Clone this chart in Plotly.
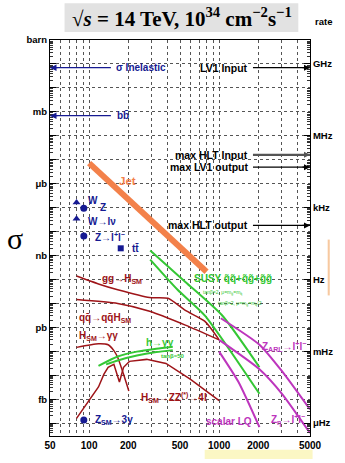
import numpy as np
import plotly.graph_objects as go

# ---------------- data: mass (GeV), cross-section (pb), rate (Hz) ----------------
jet_m = [100, 800]
jet_sigma = [7.2e6, 2.1e2]

w_m = [80, 80]
w_sigma = [1.65e5, 3.4e4]          # W (total), W->lv
z_m = [91]
z_sigma = [9.4e4]
zll_m = [91]
zll_sigma = [6.5e3]
tt_m = [175]
tt_sigma = [2.0e3]
z3g_m = [91]
z3g_sigma = [1.35e-4]

ggh_m = [80, 118, 166, 292, 404, 550, 774, 1000]
ggh_sigma = [139, 65, 37, 17.5, 16.3, 5.1, 1.81, 0.30]

qqh_m = [80, 166, 292, 550, 1000]
qqh_sigma = [14.5, 9.9, 4.7, 1.24, 0.30]

hgg_m = [80, 118, 140, 155, 166, 184, 202]
hgg_sigma = [0.146, 0.207, 0.188, 0.107, 0.055, 0.011, 0.0022]

h4l_m = [80, 99, 118, 130, 140, 155, 171, 184, 204, 277, 390, 599, 1000]
h4l_sigma = [1.59e-4, 7.9e-4, 3.25e-3, 0.0111, 0.0215, 0.0285, 0.0052, 0.0215,
             0.038, 0.046, 0.031, 0.0069, 8.7e-4]

susy1_m = [295, 550, 1053, 2042]
susy1_sigma = [1618, 79, 3.19, 0.0215]
susy2_m = [295, 479, 774, 2042]
susy2_sigma = [673, 37.1, 3.19, 1.68e-3]

mssm_hgg1_m = [118, 166, 233, 329, 440]
mssm_hgg1_sigma = [0.0247, 0.0607, 0.097, 0.129, 0.156]
mssm_hgg2_m = [135, 166, 233, 329, 440]
mssm_hgg2_sigma = [0.0285, 0.0416, 0.0667, 0.0927, 0.112]

zarl_m = [1030, 2042, 3044, 5000]
zarl_sigma = [2.40, 0.188, 0.0147, 3.7e-4]
zeta_m = [1000, 2042, 3044, 5000]
zeta_sigma = [0.30, 0.0178, 1.68e-3, 3.86e-5]
lq_m = [1000, 1409, 2042]
lq_sigma = [0.097, 5.2e-3, 6.8e-5]

# reference levels
inel_sigma = 7.0e10      # pb  (sigma inelastic)
bb_sigma = 6.9e8         # pb  (b bbar)
left_arrow_m = [147, 50]
rate_names = ["LV1 Input", "max HLT Input", "max LV1 output", "max HLT output"]
rate_values = [7.0e8, 1.6e5, 4.9e4, 1.8e2]   # Hz
right_arrow_m = [1821, 5000]

x_major = [50, 100, 200, 500, 1000, 2000, 5000]
x_major_labels = ["50", "100", "200", "500", "1000", "2000", "5000"]
x_minor = [60, 70, 80, 90, 300, 400, 600, 700, 800, 900, 3000, 4000]
sigma_unit_vals = [1e12, 1e9, 1e6, 1e3, 1, 1e-3]            # pb
sigma_unit_labels = ["barn", "mb", "\u03bcb", "nb", "pb", "fb"]
rate_unit_vals = [1e9, 1e6, 1e3, 1, 1e-3, 1e-6]             # Hz
rate_unit_labels = ["GHz", "MHz", "kHz", "Hz", "mHz", "\u03bcHz"]

# ---------------- styles ----------------
NAVY = "#161a92"
RED = "#9e1418"
GREEN = "#34c734"
MAG = "#bd35bd"
ORANGE = "#f3814a"
FONT = "Liberation Sans, Arial, sans-serif"
GRID = "#555555"

fig = go.Figure()

def line(x, y, color, width, shape="spline", yaxis="y"):
    fig.add_trace(go.Scatter(x=x, y=y, mode="lines", yaxis=yaxis,
                             line=dict(color=color, width=width, shape=shape,
                                       smoothing=0.6),
                             hoverinfo="skip", showlegend=False))

# helper trace so that the decade-grid axis is drawn
fig.add_trace(go.Scatter(x=[50], y=[1], yaxis="y3", mode="markers",
                         marker=dict(opacity=0), hoverinfo="skip", showlegend=False))

# Jet
line(jet_m, jet_sigma, ORANGE, 6, "linear")
# Higgs
line(ggh_m, ggh_sigma, RED, 1.5)
line(qqh_m, qqh_sigma, RED, 1.5)
line(hgg_m, hgg_sigma, RED, 1.5)
line(h4l_m, h4l_sigma, RED, 1.5, "linear")
# SUSY / MSSM
line(susy1_m, susy1_sigma, GREEN, 2)
line(susy2_m, susy2_sigma, GREEN, 2)
line(mssm_hgg1_m, mssm_hgg1_sigma, GREEN, 2)
line(mssm_hgg2_m, mssm_hgg2_sigma, GREEN, 2)
# exotics
line(zarl_m, zarl_sigma, MAG, 2)
line(zeta_m, zeta_sigma, MAG, 2)
line(lq_m, lq_sigma, MAG, 2)

# left reference arrows (shafts)
line(left_arrow_m, [inel_sigma, inel_sigma], NAVY, 1.3, "linear")
line(left_arrow_m, [bb_sigma, bb_sigma], NAVY, 1.3, "linear")
# rate arrows (shafts) on the rate axis
for name, r in zip(rate_names, rate_values):
    w = 2.2 if name == "max HLT Input" else 1.2
    c = "#555555" if name == "max HLT Input" else "black"
    line(right_arrow_m, [r, r], c, w, "linear", yaxis="y2")

# markers
def mk(x, y, symbol, size):
    fig.add_trace(go.Scatter(x=x, y=y, mode="markers", hoverinfo="skip",
                             marker=dict(symbol=symbol, size=size, color=NAVY),
                             showlegend=False))
mk(w_m, w_sigma, "triangle-up", 7)
mk(z_m, z_sigma, "circle", 7)
mk(zll_m, zll_sigma, "circle", 7)
mk(tt_m, tt_sigma, "square", 6)
mk(z3g_m, z3g_sigma, "circle", 7)

ann = []
L = np.log10

# arrow heads
for s in [inel_sigma, bb_sigma]:
    ann.append(dict(x=L(50), y=L(s), xref="x", yref="y", ax=9, ay=0,
                    showarrow=True, arrowhead=2, arrowsize=1, arrowwidth=1.3,
                    arrowcolor=NAVY, text=""))
for name, r in zip(rate_names, rate_values):
    c = "#555555" if name == "max HLT Input" else "black"
    ann.append(dict(x=L(5000), y=L(r), xref="x", yref="y2", ax=-9, ay=0,
                    showarrow=True, arrowhead=2, arrowsize=1, arrowwidth=1.2,
                    arrowcolor=c, text=""))

def txt(text, m, s, color, size=10, anchor="left", yref="y", bold=True):
    ann.append(dict(x=L(m), y=L(s), xref="x", yref=yref, text=text,
                    showarrow=False, xanchor=anchor, yanchor="middle",
                    font=dict(family=FONT, size=size, color=color,
                              weight="bold" if bold else "normal")))

# labels (positions in mass / sigma units)
txt("\u03c3 Inelastic", 155, inel_sigma, NAVY, 10)
txt("bb\u0304", 158, bb_sigma, NAVY, 10)
for name, r in zip(rate_names, rate_values):
    txt(name, 1740, r, "black", 10.5, "right", "y2")
txt("Jet", 164, 1.3e6, ORANGE, 11.5)
txt("W", 95, 2.0e5, NAVY, 10)
txt("Z", 118, 1.03e5, NAVY, 10)
txt("W\u2192l\u03bd", 95, 2.75e4, NAVY, 10)
txt("Z\u2192l<sup>+</sup>l<sup>\u2212</sup>", 107, 6.1e3, NAVY, 10)
txt("tt\u0304", 208, 2.0e3, NAVY, 10)
txt("Z<sub>SM</sub>\u21923\u03b3", 108, 1.4e-4, NAVY, 10)
txt("gg\u2192H<sub>SM</sub>", 122, 105, RED, 10)
txt("qq\u0304\u2192qq\u0304H<sub>SM</sub>", 81, 2.4, RED, 10)
txt("H<sub>SM</sub>\u2192\u03b3\u03b3", 80, 0.44, RED, 10)
txt("H<sub>SM</sub>\u2192ZZ<sup>(*)</sup>\u21924l", 240, 1.15e-3, RED, 10)
txt("SUSY q\u0303q\u0303+q\u0303g\u0303+g\u0303g\u0303", 615, 105, GREEN, 10)
txt("tan\u03b2=2, \u03bc=m<sub>g\u0303</sub>=m<sub>q\u0303</sub>", 730, 29, GREEN, 5, bold=False)
txt("tan\u03b2=2, \u03bc=m<sub>g\u0303</sub>=m<sub>q\u0303</sub>/2", 940, 10.4, GREEN, 5, bold=False)
txt("h\u2192\u03b3\u03b3", 262, 0.23, GREEN, 10)
txt("tan\u03b2=50", 345, 0.061, GREEN, 6)
txt("Z<sub>ARL</sub>\u2192l<sup>+</sup>l<sup>\u2212</sup>", 2080, 0.156, MAG, 10)
txt("scalar LQ", 770, 1.2e-4, MAG, 10)
txt("Z<sub>\u03b7</sub>\u2192l<sup>+</sup>l<sup>\u2212</sup>", 2430, 1.3e-4, MAG, 10)

# decorations (paper coordinates)
ann.append(dict(xref="paper", yref="paper", x=0.506, y=1.058, showarrow=False,
                text="\u221a<i>s</i> = 14 TeV, 10<sup>34</sup> cm<sup>\u22122</sup>s<sup>\u22121</sup>",
                font=dict(family="Liberation Serif, Times New Roman, serif", size=21,
                          color="black", weight="bold"),
                xanchor="center", yanchor="middle"))
ann.append(dict(xref="paper", yref="paper", x=1.012, y=1.047, showarrow=False,
                text="rate", xanchor="left", yanchor="middle",
                font=dict(family=FONT, size=9.5, color="black", weight="bold")))
ann.append(dict(xref="paper", yref="paper", x=-0.135, y=0.5, showarrow=False,
                text="\u03c3", xanchor="center", yanchor="middle",
                font=dict(family="Liberation Serif, Times New Roman, serif", size=30,
                          color="black")))

shapes = [
    dict(type="rect", xref="paper", yref="paper", x0=0.056, x1=0.955,
         y0=1.02, y1=1.093, fillcolor="#e2e2e2", line=dict(width=0), layer="below"),
    dict(type="rect", xref="paper", yref="paper", x0=0.595, x1=1.01,
         y0=-0.058, y1=-0.035, fillcolor="#fbf7c4", line=dict(width=0)),
    dict(type="rect", xref="paper", yref="paper", x0=1.068, x1=1.076,
         y0=0.355, y1=0.496, fillcolor="#f7c9a0", line=dict(width=0)),
]

minor_vals = [d * 10.0 ** k for k in range(-7, 13) for d in range(2, 10)]
decades = [10.0 ** k for k in range(-4, 13)]

fig.update_layout(
    width=345, height=463,
    margin=dict(l=50, r=26, t=40, b=20),
    paper_bgcolor="white", plot_bgcolor="white",
    showlegend=False,
    annotations=ann, shapes=shapes,
    xaxis=dict(type="log", range=[L(50), L(5000)],
               tickmode="array", tickvals=x_major, ticktext=x_major_labels,
               tickfont=dict(family=FONT, size=10, color="black", weight="bold"),
               showgrid=True, gridcolor=GRID, griddash="dot", gridwidth=1,
               minor=dict(tickmode="array", tickvals=x_minor, ticks="",
                          showgrid=True, gridcolor=GRID, griddash="dot",
                          gridwidth=1),
               showline=True, linecolor="black", linewidth=1, mirror=True,
               ticks="", zeroline=False),
    yaxis=dict(type="log", range=[-4.537, 12],
               tickmode="array", tickvals=sigma_unit_vals, ticktext=sigma_unit_labels,
               tickfont=dict(family=FONT, size=9.5, color="black", weight="bold"),
               showgrid=False,
               showline=True, linecolor="black", linewidth=1,
               ticks="inside", ticklen=6, tickcolor="black",
               minor=dict(tickmode="array", tickvals=minor_vals, ticks="inside",
                          ticklen=3, tickcolor="#333333", showgrid=False),
               zeroline=False),
    yaxis2=dict(type="log", range=[-6.537, 10], overlaying="y", side="right",
                tickmode="array", tickvals=rate_unit_vals, ticktext=rate_unit_labels,
                tickfont=dict(family=FONT, size=9.5, color="black", weight="bold"),
                showgrid=False, showline=True, linecolor="black", linewidth=1,
                ticks="inside", ticklen=6, tickcolor="black",
                minor=dict(tickmode="array", tickvals=minor_vals, ticks="inside",
                           ticklen=3, tickcolor="#333333", showgrid=False),
                zeroline=False),
    yaxis3=dict(type="log", range=[-4.537, 12], overlaying="y", side="left",
                tickmode="array", tickvals=decades, showticklabels=False,
                ticks="inside", ticklen=6, tickcolor="black",
                showgrid=True, gridcolor=GRID, griddash="dot", gridwidth=1,
                showline=False, zeroline=False),
)

fig.write_html("out.html")
